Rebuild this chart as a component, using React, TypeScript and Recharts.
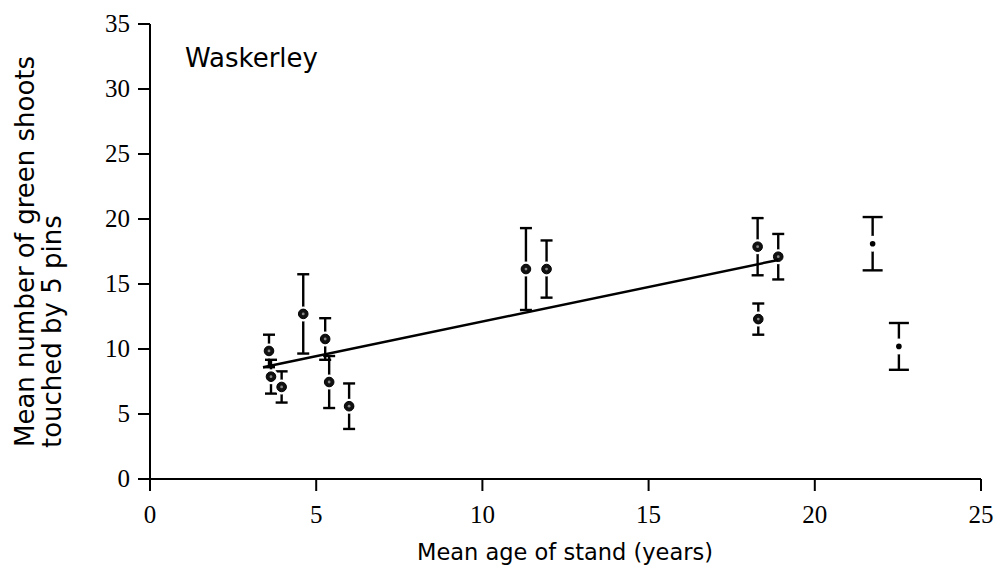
import React from 'react';
import { ScatterChart, Scatter, XAxis, YAxis, ErrorBar, Label } from 'recharts';

// stands: age (x), mean shoots (y), error bar half-length
const stands = [
  { x: 3.58, y: 9.85, err: 1.25 },
  { x: 3.64, y: 7.87, err: 1.3 },
  { x: 3.96, y: 7.08, err: 1.2 },
  { x: 4.61, y: 12.7, err: 3.05 },
  { x: 5.27, y: 10.77, err: 1.6 },
  { x: 5.39, y: 7.46, err: 2.0 },
  { x: 5.99, y: 5.6, err: 1.75 },
  { x: 11.31, y: 16.15, err: 3.15 },
  { x: 11.93, y: 16.15, err: 2.2 },
  { x: 18.28, y: 17.87, err: 2.2 },
  { x: 18.3, y: 12.3, err: 1.2 },
  { x: 18.9, y: 17.1, err: 1.75 },
];

const oldStands = [
  { x: 21.74, y: 18.1, err: 2.05 },
  { x: 22.53, y: 10.2, err: 1.8 },
];

const fitLine = [
  { x: 3.4, y: 8.6 },
  { x: 18.9, y: 16.85 },
];

const xTicks = [0, 5, 10, 15, 20, 25];
const yTicks = [0, 5, 10, 15, 20, 25, 30, 35];

const sans = '"DejaVu Sans", sans-serif';
const serif = '"Liberation Serif", serif';

const XTick = (props: any) => {
  const { x, y, payload } = props;
  return (
    <text x={x} y={y + 32} textAnchor="middle" fontFamily={serif} fontSize={25} fill="#000">
      {payload.value}
    </text>
  );
};

const YTick = (props: any) => {
  const { x, y, payload } = props;
  return (
    <text x={x} y={y + 7.5} textAnchor="end" fontFamily={serif} fontSize={25} fill="#000">
      {payload.value}
    </text>
  );
};

const RingDot = (props: any) => {
  const { cx, cy } = props;
  return (
    <g>
      <circle cx={cx} cy={cy} r={7.5} fill="#fff" />
      <circle cx={cx} cy={cy} r={4.8} fill="#111" stroke="#000" strokeWidth={1} />
      <circle cx={cx} cy={cy} r={1.4} fill="#888" />
    </g>
  );
};

const SmallDot = (props: any) => {
  const { cx, cy } = props;
  return (
    <g>
      <circle cx={cx} cy={cy} r={8} fill="#fff" />
      <circle cx={cx} cy={cy} r={2.8} fill="#000" />
    </g>
  );
};

const NoDot = () => <g />;

const YTitle = () => (
  <g fontFamily={sans} fontSize={26} fill="#000">
    <text x={34} y={447} transform="rotate(-90, 34, 447)" textAnchor="start">
      Mean number of green shoots
    </text>
    <text x={61} y={448} transform="rotate(-90, 61, 448)" textAnchor="start">
      touched by 5 pins
    </text>
  </g>
);

const XTitle = () => (
  <text x={565} y={560} textAnchor="middle" fontFamily={sans} fontSize={22.5} fill="#000">
    Mean age of stand (years)
  </text>
);

export default function App() {
  return (
    <div style={{ position: 'absolute', left: 0, top: 0, width: 999, height: 579, background: '#fff' }}>
      <ScatterChart width={999} height={579} margin={{ top: 24, right: 18, left: 90, bottom: 50 }}>
        <XAxis
          type="number"
          dataKey="x"
          domain={[0, 25]}
          ticks={xTicks}
          tickSize={12}
          tickMargin={0}
          height={50}
          stroke="#000"
          strokeWidth={2}
          tick={<XTick />}
          allowDataOverflow
        >
          <Label content={<XTitle />} />
        </XAxis>
        <YAxis
          type="number"
          dataKey="y"
          domain={[0, 35]}
          ticks={yTicks}
          tickSize={12}
          tickMargin={8}
          width={60}
          stroke="#000"
          strokeWidth={2}
          tick={<YTick />}
          allowDataOverflow
        >
          <Label content={<YTitle />} />
        </YAxis>
        <Scatter data={stands} shape={RingDot} isAnimationActive={false}>
          <ErrorBar dataKey="err" direction="y" width={6} stroke="#000" strokeWidth={2.4} />
        </Scatter>
        <Scatter data={oldStands} shape={SmallDot} isAnimationActive={false}>
          <ErrorBar dataKey="err" direction="y" width={10} stroke="#000" strokeWidth={2.4} />
        </Scatter>
        <Scatter
          data={fitLine}
          shape={NoDot}
          line={{ stroke: '#000', strokeWidth: 2.5 }}
          isAnimationActive={false}
        />
      </ScatterChart>
      <div
        style={{
          position: 'absolute',
          left: 185,
          top: 45,
          fontFamily: sans,
          fontSize: 26,
          color: '#000',
          lineHeight: 1,
        }}
      >
        Waskerley
      </div>
    </div>
  );
}
